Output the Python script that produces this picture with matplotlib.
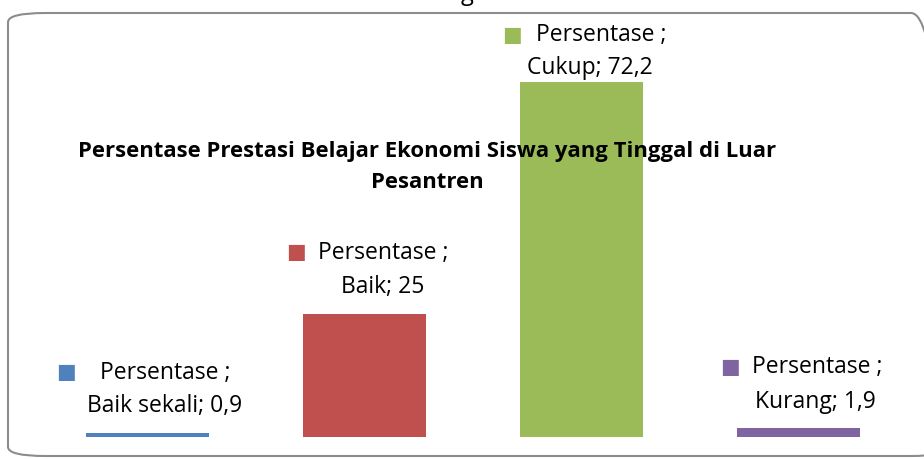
import numpy as np
import matplotlib.pyplot as plt
from matplotlib.patches import FancyBboxPatch

plt.rcParams['font.family'] = ['Open Sans', 'DejaVu Sans']

# data
categories = ['Baik sekali', 'Baik', 'Cukup', 'Kurang']
values = [0.9, 25, 72.2, 1.9]
value_labels = ['0,9', '25', '72,2', '1,9']
colors = ['#4F81BD', '#C0504D', '#9BBB59', '#8064A2']
title = 'Persentase Prestasi Belajar Ekonomi Siswa yang Tinggal di Luar\nPesantren'

# label offsets in pixels from top centre of each bar
# (marker dx, dy), (line1 left dx, dy), (line2 centre dx, dy)
offsets = [
    ((-82, 61), (-48, 60), (17, 27)),
    ((-68, 62), (-47, 61), (18, 27)),
    ((-69, 47), (-46, 47), (8, 14)),
    ((-68, 61), (-47, 61), (17, 26)),
]

W, H = 924, 459
fig = plt.figure(figsize=(W / 100, H / 100), dpi=100)

# rounded chart border
border = FancyBboxPatch((8 / W, 3 / H), 940 / W, 443 / H,
                        boxstyle='round,pad=0,rounding_size=0.04',
                        transform=fig.transFigure, facecolor='none',
                        edgecolor='#8c8c8c', linewidth=1.5, mutation_aspect=H / W)
fig.patches.append(border)

# descender of cut-off text above the chart
fig.text(467 / W, 1.0, 'g', fontsize=17, ha='center', va='baseline', color='black')

ax = fig.add_axes([0, 0, 1, 1])
ax.patch.set_alpha(0)
x = np.arange(len(categories))
ax.bar(x, values, width=0.567, color=colors, zorder=2)
ax.set_xlim(-147.5 / 217, (W - 147.5) / 217)
ax.set_ylim(-22 / 4.92, (H - 22) / 4.92)
ax.axis('off')

for i in range(len(categories)):
    (mdx, mdy), (l1dx, l1dy), (l2dx, l2dy) = offsets[i]
    ax.annotate('\u25A0', xy=(x[i], values[i]), xytext=(mdx, mdy), textcoords='offset pixels',
                ha='center', va='center', fontsize=15, color=colors[i], family='DejaVu Sans', zorder=4)
    ax.annotate('Persentase ;', xy=(x[i], values[i]), xytext=(l1dx, l1dy), textcoords='offset pixels',
                ha='left', va='center', fontsize=16.5, color='black', zorder=4)
    ax.annotate(f'{categories[i]}; {value_labels[i]}', xy=(x[i], values[i]), xytext=(l2dx, l2dy),
                textcoords='offset pixels', ha='center', va='center', fontsize=16.5, color='black', zorder=4)

ax.text(427 / W, 1 - 167 / H, title, transform=ax.transAxes, ha='center', va='center',
        fontsize=15.9, fontweight='bold', linespacing=1.68, zorder=5)

fig.savefig('out.png', dpi=100)
